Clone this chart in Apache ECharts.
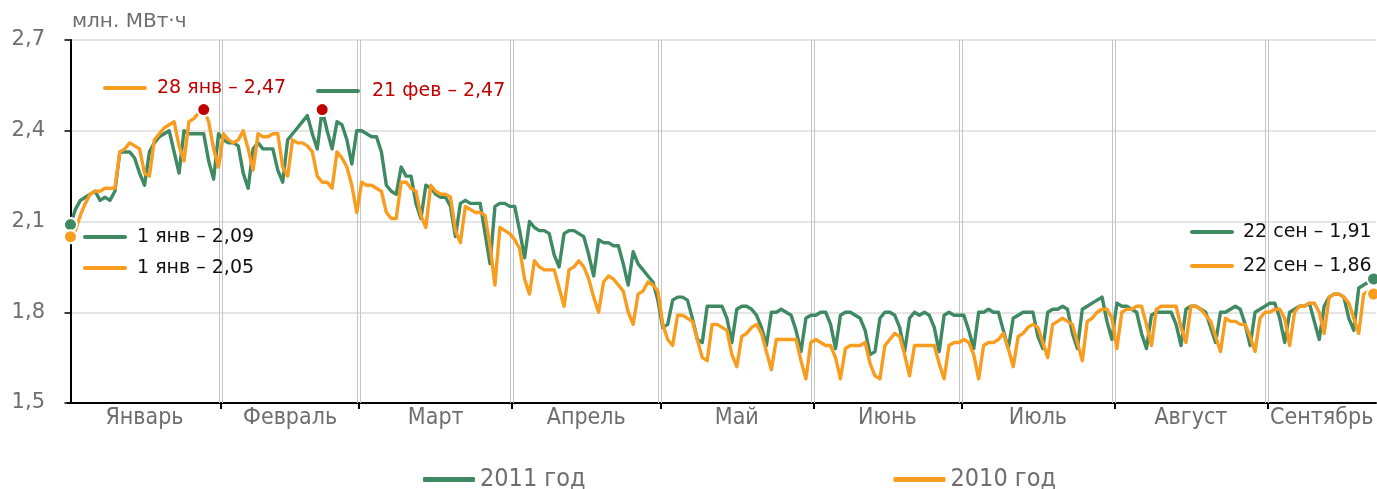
<!DOCTYPE html>
<html><head><meta charset="utf-8">
<script src="https://cdn.jsdelivr.net/npm/echarts@6/dist/echarts.min.js"></script>
<style>html,body{margin:0;padding:0;background:#fff}#c{width:1377px;height:489px}</style>
</head><body><div id="c"></div>
<script>
const months = ['Январь','Февраль','Март','Апрель','Май','Июнь','Июль','Август','Сентябрь'];
const monthShort = ['янв','фев','мар','апр','май','июн','июл','авг','сен'];
const monthDays = [31,28,31,30,31,30,31,31,22];
const yTicks = [1.5,1.8,2.1,2.4,2.7];
const seriesNames = ['2011 год','2010 год'];
const unitLabel = 'млн. МВт·ч';

const values2011 = [
// Jan
2.09,2.14,2.17,2.18,2.19,2.20,2.17,2.18,2.17,2.20,2.33,2.33,2.33,2.31,2.26,2.22,2.33,2.36,2.38,2.39,2.40,2.33,2.26,2.40,2.39,2.39,2.39,2.39,2.30,2.24,2.39,
// Feb
2.37,2.36,2.36,2.35,2.26,2.21,2.34,2.36,2.34,2.34,2.34,2.27,2.23,2.37,2.39,2.41,2.43,2.45,2.39,2.34,2.47,2.40,2.34,2.43,2.42,2.37,2.29,2.40,
// Mar
2.40,2.39,2.38,2.38,2.33,2.22,2.20,2.19,2.28,2.25,2.25,2.16,2.11,2.22,2.21,2.19,2.18,2.18,2.15,2.05,2.16,2.17,2.16,2.16,2.16,2.06,1.96,2.15,2.16,2.16,2.15,
// Apr
2.15,2.07,1.98,2.10,2.08,2.07,2.07,2.06,1.99,1.95,2.06,2.07,2.07,2.06,2.05,1.99,1.92,2.04,2.03,2.03,2.02,2.02,1.96,1.89,2.00,1.96,1.94,1.92,1.90,1.84,
// May
1.75,1.76,1.84,1.85,1.85,1.84,1.78,1.71,1.70,1.82,1.82,1.82,1.82,1.78,1.70,1.81,1.82,1.82,1.81,1.79,1.75,1.69,1.80,1.80,1.81,1.80,1.79,1.74,1.67,1.78,1.79,
// Jun
1.79,1.80,1.80,1.76,1.68,1.79,1.80,1.80,1.79,1.78,1.74,1.66,1.67,1.78,1.80,1.80,1.79,1.75,1.67,1.78,1.80,1.79,1.80,1.79,1.75,1.67,1.79,1.80,1.79,1.79,
// Jul
1.79,1.74,1.68,1.80,1.80,1.81,1.80,1.80,1.74,1.68,1.78,1.79,1.80,1.80,1.80,1.72,1.68,1.80,1.81,1.81,1.82,1.81,1.73,1.68,1.81,1.82,1.83,1.84,1.85,1.77,1.71,
// Aug
1.83,1.82,1.82,1.81,1.80,1.73,1.68,1.79,1.80,1.80,1.80,1.80,1.76,1.69,1.81,1.82,1.82,1.81,1.80,1.75,1.70,1.80,1.80,1.81,1.82,1.81,1.76,1.69,1.80,1.81,1.82,
// Sep
1.83,1.83,1.78,1.70,1.80,1.81,1.82,1.82,1.83,1.77,1.71,1.82,1.85,1.86,1.86,1.85,1.78,1.74,1.88,1.89,1.90,1.91
];

const values2010 = [
// Jan
2.05,2.07,2.12,2.16,2.19,2.20,2.20,2.21,2.21,2.21,2.33,2.34,2.36,2.35,2.34,2.26,2.25,2.37,2.39,2.41,2.42,2.43,2.35,2.30,2.43,2.44,2.46,2.47,2.43,2.34,2.28,
// Feb
2.39,2.37,2.36,2.37,2.40,2.34,2.27,2.39,2.38,2.38,2.39,2.39,2.28,2.25,2.37,2.36,2.36,2.35,2.33,2.25,2.23,2.23,2.21,2.33,2.31,2.28,2.22,2.13,
// Mar
2.23,2.22,2.22,2.21,2.20,2.13,2.11,2.11,2.23,2.23,2.21,2.20,2.12,2.08,2.22,2.20,2.19,2.19,2.18,2.07,2.03,2.15,2.14,2.13,2.13,2.12,2.02,1.89,2.08,2.07,2.06,
// Apr
2.04,2.01,1.91,1.86,1.97,1.95,1.94,1.94,1.94,1.88,1.82,1.94,1.95,1.97,1.95,1.91,1.85,1.80,1.90,1.92,1.91,1.89,1.87,1.80,1.76,1.86,1.87,1.90,1.89,1.87,
// May
1.76,1.71,1.69,1.79,1.79,1.78,1.77,1.71,1.65,1.64,1.76,1.76,1.75,1.74,1.66,1.62,1.72,1.73,1.75,1.76,1.73,1.67,1.61,1.71,1.71,1.71,1.71,1.71,1.64,1.58,1.70,
// Jun
1.71,1.70,1.69,1.69,1.65,1.58,1.68,1.69,1.69,1.69,1.70,1.63,1.59,1.58,1.69,1.71,1.73,1.72,1.66,1.59,1.69,1.69,1.69,1.69,1.69,1.63,1.58,1.69,1.70,1.70,
// Jul
1.71,1.70,1.66,1.58,1.69,1.70,1.70,1.71,1.73,1.68,1.62,1.72,1.73,1.75,1.76,1.75,1.70,1.65,1.76,1.77,1.78,1.77,1.76,1.70,1.64,1.77,1.78,1.80,1.81,1.81,1.78,
// Aug
1.68,1.80,1.81,1.81,1.82,1.82,1.76,1.69,1.81,1.82,1.82,1.82,1.82,1.75,1.70,1.82,1.82,1.81,1.79,1.77,1.72,1.67,1.78,1.77,1.77,1.76,1.76,1.72,1.67,1.78,1.80,
// Sep
1.80,1.81,1.81,1.78,1.69,1.80,1.82,1.82,1.83,1.83,1.80,1.73,1.85,1.86,1.86,1.85,1.83,1.78,1.73,1.86,1.87,1.86
];

const GREEN = '#3f8963', ORANGE = '#f89d1f', RED = '#c00000', GRAY = '#6e6e6e';
const nDays = monthDays.reduce((a,b)=>a+b,0);
const monthStarts = []; { let s=0; monthDays.forEach(d=>{monthStarts.push(s); s+=d;}); }
const boundaries = monthStarts.slice(1).map(s=>s-0.5);
const centers = monthStarts.map((s,i)=>s + monthDays[i]/2 - 0.5);
const fmt = v => v.toFixed(2).replace('.', ',');
const fmtTick = v => v.toFixed(1).replace('.', ',');
function dayLabel(i){ let m=0; while(m<monthStarts.length-1 && monthStarts[m+1]<=i) m++; return (i-monthStarts[m]+1)+' '+monthShort[m]; }
function argMax(a){ let k=0; a.forEach((v,i)=>{ if(v>a[k]) k=i; }); return k; }

const chart = echarts.init(document.getElementById('c'));
const FONT = '"DejaVu Sans", Verdana, sans-serif';
const CFONT = '"DejaVu Sans Condensed", "DejaVu Sans", sans-serif';

function mkSeries(name, vals, color, z){
  const last = vals.length-1, mx = argMax(vals);
  return {
    name, type:'line', data: vals.map((v,i)=>[i,v]), showSymbol:false, symbol:'none',
    lineStyle:{color, width:3.4, join:'round'}, itemStyle:{color}, z, silent:true, animation:false,
    markPoint:{ silent:true, animation:false, label:{show:false},
      data:[
        {coord:[0, vals[0]], symbol:'circle', symbolSize:13, itemStyle:{color, borderColor:'#fff', borderWidth:2}},
        {coord:[last, vals[last]], symbol:'circle', symbolSize:13, itemStyle:{color, borderColor:'#fff', borderWidth:2}},
        {coord:[mx, vals[mx]], symbol:'circle', symbolSize:13, itemStyle:{color:RED, borderColor:'#fff', borderWidth:2}}
      ]}
  };
}

function ann(lx, ly, lineColor, tx, text, textColor){
  return [
    {type:'line', shape:{x1:lx, y1:ly, x2:lx+40, y2:ly}, style:{stroke:lineColor, lineWidth:4, lineCap:'round'}, z:10},
    {type:'text', x:tx, y:ly, style:{text, fill:textColor, font:'19px '+FONT, textVerticalAlign:'middle'}, z:10}
  ];
}
const last = nDays-1;
const m10 = argMax(values2010), m11 = argMax(values2011);

const option = {
  animation:false,
  grid:{left:68, right:1, top:40, bottom:86, containLabel:false, outerBoundsMode:'none'},
  xAxis:{
    type:'value', min:-0.5, max:nDays-0.5,
    axisLine:{show:true, onZero:false, lineStyle:{color:'#000', width:2}},
    axisTick:{show:true, customValues:boundaries, length:6, lineStyle:{color:'#000', width:2}},
    axisLabel:{customValues:centers, color:GRAY, fontFamily:CFONT, fontSize:23, margin:4,
      formatter:(v)=>{ let k=0, best=1e9; centers.forEach((c,i)=>{ if(Math.abs(c-v)<best){best=Math.abs(c-v);k=i;} }); return months[k]; }},
    splitLine:{show:false}
  },
  yAxis:{
    type:'value', min:yTicks[0], max:yTicks[yTicks.length-1], interval:0.3,
    axisLine:{show:true, lineStyle:{color:'#000', width:2}},
    axisTick:{show:true, length:6, lineStyle:{color:'#000', width:1.5}},
    axisLabel:{color:GRAY, fontFamily:FONT, fontSize:21, margin:23, formatter:fmtTick},
    splitLine:{show:true, lineStyle:{color:'#dcdcdc', width:1.5}}
  },
  legend:{
    data:seriesNames, left:418, top:462, itemWidth:52, itemHeight:5, itemGap:308, icon:'roundRect',
    textStyle:{color:GRAY, fontFamily:CFONT, fontSize:25}
  },
  graphic:[
    {type:'text', left:72, top:12, style:{text:unitLabel, fill:GRAY, font:'20px '+FONT}},
    ...ann(105, 88, ORANGE, 157, dayLabel(m10)+' – '+fmt(values2010[m10]), RED),
    ...ann(318, 91, GREEN, 372, dayLabel(m11)+' – '+fmt(values2011[m11]), RED),
    ...ann(85, 237, GREEN, 137, dayLabel(0)+' – '+fmt(values2011[0]), '#111'),
    ...ann(85, 268, ORANGE, 137, dayLabel(0)+' – '+fmt(values2010[0]), '#111'),
    ...ann(1192, 232, GREEN, 1243, dayLabel(last)+' – '+fmt(values2011[last]), '#111'),
    ...ann(1192, 266, ORANGE, 1243, dayLabel(last)+' – '+fmt(values2010[last]), '#111')
  ],
  series:[
    {
      type:'custom', silent:true, z:1, animation:false,
      data: boundaries.map(b=>[b, yTicks[0]]),
      renderItem:(params, api)=>{
        const cs = params.coordSys;
        const x = api.coord([api.value(0), yTicks[0]])[0];
        return {type:'group', children:[
          {type:'line', shape:{x1:Math.round(x)-1.5, y1:cs.y, x2:Math.round(x)-1.5, y2:cs.y+cs.height}, style:{stroke:'#c4c4c4', lineWidth:1}},
          {type:'line', shape:{x1:Math.round(x)+1.5, y1:cs.y, x2:Math.round(x)+1.5, y2:cs.y+cs.height}, style:{stroke:'#c4c4c4', lineWidth:1}}
        ]};
      }
    },
    mkSeries(seriesNames[0], values2011, GREEN, 3),
    mkSeries(seriesNames[1], values2010, ORANGE, 4)
  ]
};
chart.setOption(option);
</script></body></html>
